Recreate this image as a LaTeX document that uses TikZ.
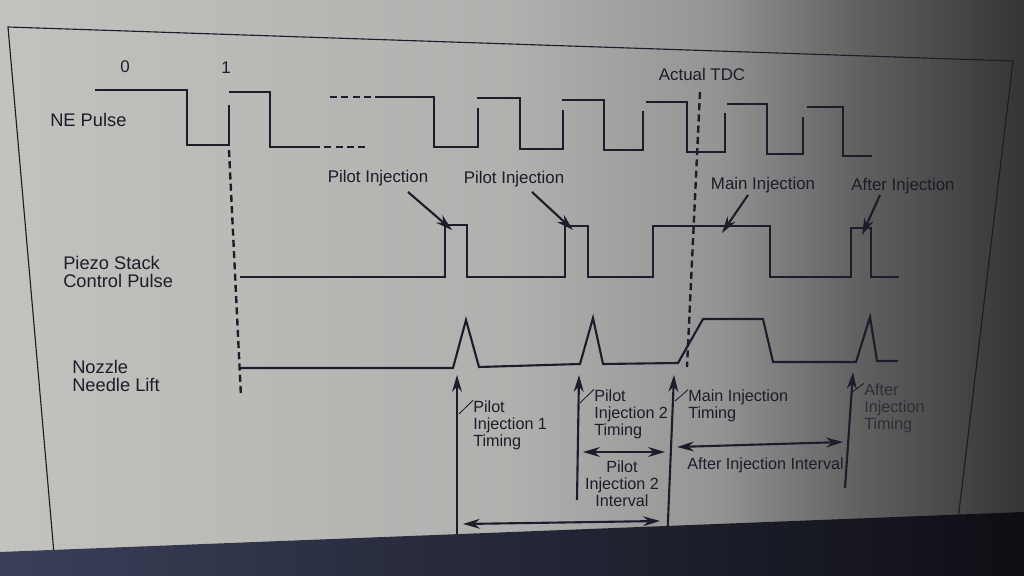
\documentclass[tikz,border=0pt]{standalone}
\usepackage{fontspec}
\setmainfont{Liberation Sans}
\usetikzlibrary{arrows.meta}
\definecolor{ink}{RGB}{28,28,42}
\definecolor{g1}{RGB}{194,194,190}
\definecolor{g2}{RGB}{176,176,174}
\definecolor{g3}{RGB}{148,148,148}
\definecolor{g4}{RGB}{96,96,96}
\definecolor{g5}{RGB}{52,52,52}
\definecolor{tb1}{RGB}{58,64,90}
\definecolor{tb2}{RGB}{14,14,20}
\pgfdeclarehorizontalshading{photo}{100bp}{color(0bp)=(g1); color(25bp)=(g1); color(50bp)=(g2); color(60bp)=(g3); color(67bp)=(g4); color(75bp)=(g5); color(100bp)=(g5)}
\tikzset{
  wave/.style={draw=ink, line width=1.5pt, line join=miter},
  dsh/.style={draw=ink, line width=1.7pt, dash pattern=on 5pt off 3pt},
  arr/.style={draw=ink, line width=1.5pt, -{Stealth[length=12pt,width=7pt]}},
  darr/.style={draw=ink, line width=1.5pt, {Stealth[length=12pt,width=7pt]}-{Stealth[length=12pt,width=7pt]}},
  lead/.style={draw=ink, line width=0.6pt},
  side/.style={inner sep=0pt, text=ink, align=left, font=\fontsize{13}{12.8}\selectfont},
  top/.style={inner sep=0pt, text=ink, font=\fontsize{12}{12}\selectfont},
  low/.style={inner sep=0pt, text=ink, align=left, font=\fontsize{11.5}{12}\selectfont}
}
\begin{document}
\begin{tikzpicture}[x=0.025cm,y=-0.025cm]
\useasboundingbox (0,0) rectangle (1024,576);
\shade[shading=photo] (0,0) rectangle (1024,576);
% window frame
\draw[ink, line width=0.8pt] (55,565) -- (8,27) -- (1013,61) -- (955,545);

% ---------------- labels ----------------
\node[top] (n0) at (125,67) {0};
\node[top] (n1) at (226,68) {1};
\node[side, anchor=west] (ne) at (50,120) {NE Pulse};
\node[top] (tdc) at (702,74) {Actual TDC};
\node[side, anchor=west] (piezo) at (63,272) {Piezo Stack\\Control Pulse};
\node[side, anchor=west] (nozzle) at (72,376) {Nozzle\\Needle Lift};
\node[top] (pi1) at (378,178) {Pilot Injection};
\node[top] (pi2) at (514,179) {Pilot Injection};
\node[top] (mi) at (763,185) {Main Injection};
\node[top] (ai) at (903,186) {After Injection};

% ---------------- NE pulse ----------------
\draw[wave] (95,90) -- (187,90) -- (187,145) -- (229,145) -- (229,105);
\draw[wave] (229,92) -- (270,92) -- (270,147) -- (313,147);
\draw[dsh, line width=1.5pt] (313,147) -- (367,147);
\draw[dsh, line width=1.5pt] (330,97) -- (378,97);
\draw[wave] (378,97) -- (434,97) -- (434,147) -- (478,147) -- (478,108);
\draw[wave] (477,98) -- (520,98) -- (520,149) -- (563,149) -- (563,110);
\draw[wave] (562,100) -- (604,100) -- (604,150) -- (643,150) -- (643,111);
\draw[wave] (646,102) -- (687,102) -- (687,152) -- (725,152) -- (725,113);
\draw[wave] (727,104) -- (767,104) -- (767,154) -- (803,154) -- (803,117);
\draw[wave] (807,107) -- (843,107) -- (843,156) -- (872,156);

% ---------------- Piezo stack control pulse ----------------
\draw[wave] (240,277) -- (445,277) -- (445,225) -- (467,225) -- (467,277)
  -- (565,277) -- (565,226) -- (588,226) -- (588,277)
  -- (653,277) -- (653,226) -- (770,226) -- (770,277)
  -- (851,277) -- (851,228) -- (871,228) -- (871,277) -- (899,277);

% ---------------- Nozzle needle lift ----------------
\draw[wave] (241,368) -- (453,368) -- (466,320) -- (479,367) -- (580,364)
  -- (593,318) -- (603,364) -- (678,363) -- (703,319) -- (763,319)
  -- (773,362) -- (856,362) -- (870,317) -- (877,361) -- (898,361);

% ---------------- dashed references ----------------
\coordinate (c1a) at (229,150);
\coordinate (c1b) at (241,397);
\draw[dsh] (c1a) -- (c1b);
\coordinate (tdca) at (700,92);
\coordinate (tdcb) at (687,367);
\draw[dsh] (tdca) -- (tdcb);

% ---------------- upper pointer arrows ----------------
\coordinate (p1s) at (408,192); \coordinate (p1t) at (452,230);
\coordinate (p2s) at (532,192); \coordinate (p2t) at (573,230);
\coordinate (ms) at (748,195);  \coordinate (mt) at (722,233);
\coordinate (as) at (880,195);  \coordinate (at1) at (862,235);
\draw[arr] (p1s) -- (p1t);
\draw[arr] (p2s) -- (p2t);
\draw[arr] (ms) -- (mt);
\draw[arr] (as) -- (at1);

% ---------------- timing arrows ----------------
\coordinate (a1b) at (457,545); \coordinate (a1t) at (457,375);
\coordinate (a2b) at (577,500); \coordinate (a2t) at (579,375);
\coordinate (a3b) at (667,545); \coordinate (a3t) at (674,375);
\coordinate (a4b) at (845,488); \coordinate (a4t) at (853,372);
\draw[arr] (a1b) -- (a1t);
\draw[arr] (a2b) -- (a2t);
\draw[arr] (a3b) -- (a3t);
\draw[arr] (a4b) -- (a4t);

\coordinate (i2l) at (583,452); \coordinate (i2r) at (665,452);
\coordinate (ail) at (677,447); \coordinate (air) at (843,442);
\coordinate (bl) at (463,524);  \coordinate (br) at (660,521);
\draw[darr] (i2l) -- (i2r);
\draw[darr] (ail) -- (air);
\draw[darr] (bl) -- (br);

% ---------------- timing labels ----------------
\node[low, anchor=west] (t1) at (473,425) {Pilot\\Injection 1\\Timing};
\node[low, anchor=west] (t2) at (594,414) {Pilot\\Injection 2\\Timing};
\node[low, align=center] (int2) at (622,484) {Pilot\\Injection 2\\Interval};
\node[low, anchor=west] (tm) at (688,406) {Main Injection\\Timing};
\node[low, anchor=west] (aii) at (687,465) {After Injection Interval};
\node[low, anchor=west, text=ink!75!g4] (ta) at (864,408) {After\\Injection\\Timing};

\coordinate (l1) at (459,414); \draw[lead] (l1) -- (t1.north west);
\coordinate (l2) at (580,403); \draw[lead] (l2) -- (t2.north west);
\coordinate (l3) at (675,401); \draw[lead] (l3) -- (tm.north west);
\coordinate (l4) at (851,393); \draw[lead] (l4) -- (ta.north west);

% ---------------- taskbar ----------------
\shade[left color=tb1, right color=tb2] (0,552) -- (1024,512) -- (1024,576) -- (0,576) -- cycle;
\end{tikzpicture}
\end{document}
